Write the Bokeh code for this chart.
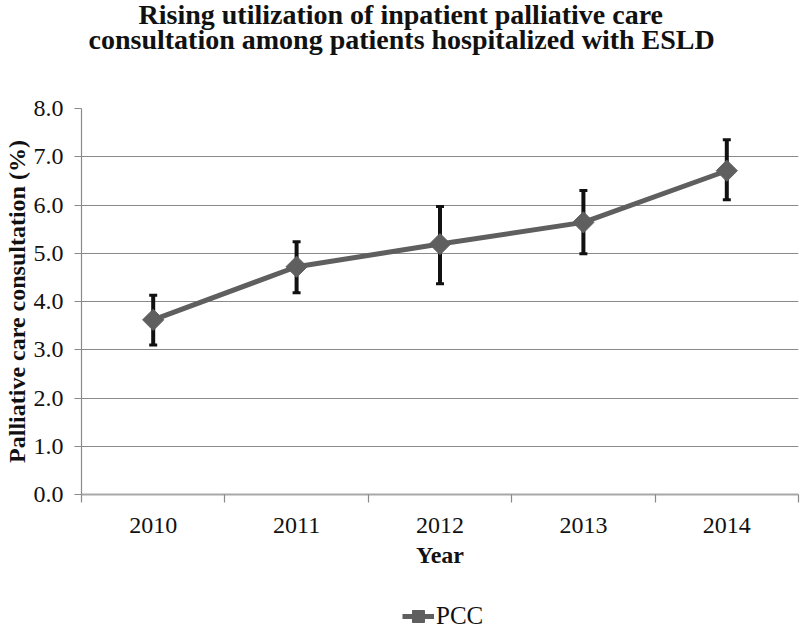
from bokeh.plotting import figure
from bokeh.layouts import column
from bokeh.models import (FixedTicker, Legend, LegendItem, ColumnDataSource,
                          Range1d, Title)
from bokeh.embed import file_html
from bokeh.resources import INLINE
import numpy as np

years = ["2010", "2011", "2012", "2013", "2014"]
pcc = [3.62, 4.72, 5.19, 5.64, 6.71]
err_low = [3.10, 4.18, 4.37, 4.99, 6.11]
err_high = [4.13, 5.24, 5.97, 6.30, 7.35]
y_ticks = [0, 1, 2, 3, 4, 5, 6, 7, 8]
series_name = "PCC"

title_lines = ["Rising utilization of inpatient palliative care",
               "consultation among patients hospitalized with ESLD"]

SERIF = "Liberation Serif"
FS = "24px"
LINE_C = "#5f5f5f"
xpos = [i + 0.5 for i in range(len(years))]

src = ColumnDataSource(dict(x=xpos, y=pcc, lo=err_low, hi=err_high))

p = figure(frame_width=717, frame_height=386, output_backend="svg",
           toolbar_location=None,
           x_range=Range1d(0, len(years)), y_range=Range1d(y_ticks[0], y_ticks[-1]),
           min_border_left=81, min_border_right=2, min_border_top=108,
           min_border_bottom=107)
p.outline_line_color = None
p.background_fill_color = "white"
p.title = None

# grid
p.xgrid.visible = False
p.ygrid.ticker = FixedTicker(ticks=y_ticks)
p.ygrid.grid_line_color = "#8a8a8a"
p.ygrid.grid_line_width = 1.2

# y axis
ya = p.yaxis[0]
ya.ticker = FixedTicker(ticks=y_ticks)
ya.major_label_overrides = {t: f"{t:.1f}" for t in y_ticks}
ya.axis_line_color = "#8a8a8a"
ya.axis_line_width = 1.2
ya.major_tick_line_color = "#8a8a8a"
ya.major_tick_out = 7
ya.major_tick_in = 0
ya.minor_tick_line_color = None
ya.major_label_text_font = SERIF
ya.major_label_text_font_size = FS
ya.major_label_text_color = "#111111"
ya.major_label_standoff = 11
ya.axis_label = "Palliative care consultation (%)"
ya.axis_label_text_font = SERIF
ya.axis_label_text_font_style = "bold"
ya.axis_label_text_font_size = FS
ya.axis_label_text_color = "#111111"
ya.axis_label_standoff = 1

# x axis
xa = p.xaxis[0]
xa.ticker = FixedTicker(ticks=xpos, minor_ticks=list(range(len(years) + 1)))
xa.major_label_overrides = {x: y for x, y in zip(xpos, years)}
xa.axis_line_color = "#a8a8a8"
xa.axis_line_width = 2
xa.major_tick_line_color = None
xa.major_tick_out = 0
xa.major_tick_in = 0
xa.minor_tick_line_color = "#8a8a8a"
xa.minor_tick_line_width = 1.2
xa.minor_tick_out = 8
xa.minor_tick_in = 0
xa.major_label_text_font = SERIF
xa.major_label_text_font_size = FS
xa.major_label_text_color = "#111111"
xa.major_label_standoff = 15
xa.axis_label = "Year"
xa.axis_label_text_font = SERIF
xa.axis_label_text_font_style = "bold"
xa.axis_label_text_font_size = FS
xa.axis_label_text_color = "#111111"
xa.axis_label_standoff = 6

# error bars
p.segment(x0="x", y0="lo", x1="x", y1="hi", source=src, line_color="#111111",
          line_width=4)
p.scatter(x="x", y="lo", source=src, marker="dash", size=8, line_width=3,
          line_color="#111111")
p.scatter(x="x", y="hi", source=src, marker="dash", size=8, line_width=3,
          line_color="#111111")

# series
p.line(x="x", y="y", source=src, line_color=LINE_C, line_width=5)
p.scatter(x="x", y="y", source=src, marker="square", angle=np.pi / 4,
          size=15, fill_color=LINE_C, line_color=LINE_C)

# title: stacked upwards from the plot (spacer, line 2, line 1)
p.add_layout(Title(text=" ", standoff=54, text_font_size="1px"), "above")
p.add_layout(Title(text=title_lines[1], align="left", offset=7, standoff=-6,
                   text_font=SERIF, text_font_style="bold",
                   text_font_size="28px", text_color="#111111"), "above")
p.add_layout(Title(text=title_lines[0], align="left", offset=57, standoff=-10,
                   text_font=SERIF, text_font_style="bold",
                   text_font_size="28px", text_color="#111111"), "above")

# legend strip below the chart
q = figure(width=800, height=30, output_backend="svg", toolbar_location=None,
           x_range=Range1d(-2, -1), y_range=Range1d(-2, -1),
           x_axis_location=None, y_axis_location=None, min_border=0)
q.outline_line_color = None
q.xgrid.visible = False
q.ygrid.visible = False
ql = q.line(x="x", y="y", source=src, line_color=LINE_C, line_width=5)
qs = q.scatter(x="x", y="y", source=src, marker="square", angle=np.pi / 4,
               size=15, fill_color=LINE_C, line_color=LINE_C)
legend = Legend(items=[LegendItem(label=series_name, renderers=[ql, qs])],
                orientation="horizontal", location=(321, 0),
                border_line_color=None, background_fill_alpha=0,
                label_text_font=SERIF, label_text_font_size="25px",
                label_text_color="#111111", glyph_width=32, glyph_height=30,
                label_standoff=2, margin=0, padding=0)
q.add_layout(legend, "center")

layout = column(p, q, spacing=0)
open("out.html", "w").write(file_html(layout, INLINE))
